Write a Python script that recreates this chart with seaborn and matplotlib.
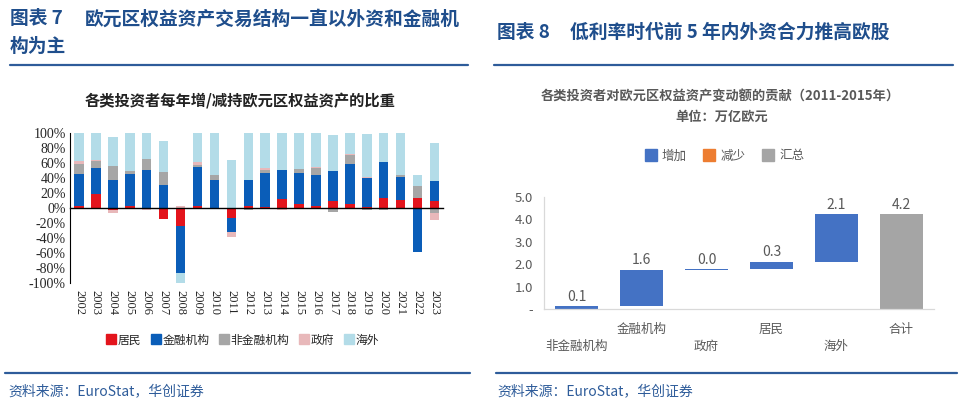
import numpy as np
import pandas as pd
import matplotlib
matplotlib.use("Agg")
import matplotlib.pyplot as plt
from matplotlib.lines import Line2D
import seaborn as sns

# ---------------- data ----------------
years = [str(y) for y in range(2002, 2024)]
series_names = ["居民", "金融机构", "非金融机构", "政府", "海外"]
household = [3, 19, -3, 3, 0, -14, -24, 3, -1, -13, 3, 2, 12, 6, 3, 9, 5, 1, 14, 11, 14, 9]
financial = [42, 35, 38, 43, 51, 31, -62, 52, 38, -19, 35, 45, 39, 41, 41, 41, 54, 39, 47, 30, -59, 27]
nonfinancial = [14, 9, 18, 4, 14, 17, 0, 3, 6, 0, -3, 4, 0, 5, 9, -5, 12, -3, -2, 3, 15, -6]
government = [4, 1, -4, 0, -3, 0, 3, 4, 0, -7, 0, 3, -3, 0, 2, 0, 1, 1, 1, 0, 1, -10]
foreign = [37, 36, 39, 50, 35, 41, -14, 38, 56, 64, 62, 46, 49, 48, 45, 48, 28, 58, 38, 56, 14, 51]
left_colors = ["#E3141C", "#0A5DB8", "#A6A6A6", "#E8B8BA", "#B3DCE8"]
y_ticks_left = [-100, -80, -60, -40, -20, 0, 20, 40, 60, 80, 100]

wf_categories = ["非金融机构", "金融机构", "政府", "居民", "海外", "合计"]
wf_changes = [0.12, 1.64, 0.02, 0.34, 2.12]
wf_total = 4.24
wf_legend = ["增加", "减少", "汇总"]
wf_colors = ["#4472C4", "#ED7D31", "#A5A5A5"]
wf_yticks = [0, 1, 2, 3, 4, 5]
wf_yticklabels = ["-", "1.0", "2.0", "3.0", "4.0", "5.0"]

# ---------------- style ----------------
sns.set_style("white")
plt.rcParams["font.family"] = ["Noto Sans CJK SC", "DejaVu Sans"]
plt.rcParams["axes.unicode_minus"] = False

W, H = 960, 409
fig = plt.figure(figsize=(W / 100, H / 100), dpi=100)
fig.patch.set_facecolor("white")

def fx(x):
    return x / W

def fy(y):
    return 1 - y / H

HEAD = "#1F4E8C"
LINE = "#2E5C9A"
GREY_T = "#595959"

# headers
fig.text(fx(10), fy(19), "图表 7", fontsize=13.5, fontweight="bold", color=HEAD, va="center")
fig.text(fx(85), fy(19), "欧元区权益资产交易结构一直以外资和金融机", fontsize=13.5,
         fontweight="bold", color=HEAD, va="center")
fig.text(fx(10), fy(46), "构为主", fontsize=13.5, fontweight="bold", color=HEAD, va="center")
fig.text(fx(497), fy(32), "图表 8", fontsize=13.5, fontweight="bold", color=HEAD, va="center")
fig.text(fx(570), fy(32), "低利率时代前 5 年内外资合力推高欧股", fontsize=13.5,
         fontweight="bold", color=HEAD, va="center")
for x0, x1, yy in [(10, 468, 65), (494, 953, 65), (5, 470, 373), (496, 957, 373)]:
    fig.add_artist(Line2D([fx(x0), fx(x1)], [fy(yy), fy(yy)], color=LINE, lw=1.6))
for x0 in [8, 497]:
    fig.text(fx(x0), fy(391), "资料来源：EuroStat，华创证券", fontsize=10, color=LINE,
             va="center", style="italic")

# ---------------- left chart ----------------
axL = fig.add_axes([fx(70), fy(283), 373 / W, 150 / H])
data_series = [household, financial, nonfinancial, government, foreign]
pos_base = np.zeros(len(years))
neg_base = np.zeros(len(years))
for name, vals, col in zip(series_names, data_series, left_colors):
    v = np.array(vals, dtype=float)
    bottoms = np.where(v >= 0, pos_base, neg_base)
    df = pd.DataFrame({"year": years, "value": v})
    sns.barplot(data=df, x="year", y="value", order=years, bottom=bottoms, color=col,
                saturation=1, width=0.56, errorbar=None, ax=axL, linewidth=0)
    pos_base = pos_base + np.where(v > 0, v, 0)
    neg_base = neg_base + np.where(v < 0, v, 0)

axL.set_xlim(-0.53, 21.47)
axL.set_ylim(-100, 100)
axL.set_yticks(y_ticks_left)
axL.set_yticklabels([f"{t}%" for t in y_ticks_left], family="Liberation Serif", fontsize=10)
axL.set_xlabel("")
axL.set_ylabel("")
axL.spines["top"].set_visible(False)
axL.spines["right"].set_visible(False)
axL.spines["left"].set_color("black")
axL.spines["left"].set_linewidth(0.8)
axL.spines["bottom"].set_position(("data", 0))
axL.spines["bottom"].set_color("black")
axL.spines["bottom"].set_linewidth(1.0)
axL.set_xticks([i + 0.5 for i in range(-1, len(years))])
axL.set_xticklabels([])
axL.tick_params(axis="x", direction="out", length=4, width=0.8, color="black")
axL.tick_params(axis="y", direction="out", length=2, width=0.6, color="black", pad=1)
for i, yr in enumerate(years):
    axL.text(i, -0.05, yr, transform=axL.get_xaxis_transform(), rotation=-90,
             ha="center", va="top", family="Liberation Serif", fontsize=9)

fig.text(fx(240), fy(101), "各类投资者每年增/减持欧元区权益资产的比重", fontsize=11,
         fontweight="bold", color="#222222", ha="center", va="center")
handlesL = [Line2D([0], [0], marker="s", linestyle="", markersize=7, markerfacecolor=c,
                   markeredgecolor=c) for c in left_colors]
fig.legend(handlesL, series_names, loc="center", bbox_to_anchor=(fx(243), fy(340)), ncol=5,
           frameon=False, fontsize=8.5, handlelength=0.7, handletextpad=0.2,
           columnspacing=0.9, borderaxespad=0)

# ---------------- right chart ----------------
axR = fig.add_axes([fx(544), fy(309), 390 / W, 112 / H])
steps = list(wf_changes) + [wf_total]
bottoms_r = list(np.concatenate([[0], np.cumsum(wf_changes)[:-1]])) + [0]
dfR = pd.DataFrame({"cat": wf_categories, "val": steps})
sns.barplot(data=dfR, x="cat", y="val", order=wf_categories, bottom=bottoms_r,
            color=wf_colors[0], saturation=1, width=0.65, errorbar=None, ax=axR, linewidth=0)
axR.patches[-1].set_facecolor(wf_colors[2])
axR.bar_label(axR.containers[0], labels=[f"{v:.1f}" for v in steps], padding=1.5,
              fontsize=10, color=GREY_T)
axR.set_xlim(-0.5, 5.5)
axR.set_ylim(0, 5)
axR.set_yticks(wf_yticks)
axR.set_yticklabels(wf_yticklabels, fontsize=9.5, color=GREY_T)
axR.tick_params(axis="y", length=0, pad=8)
axR.set_xticks([])
axR.set_xlabel("")
axR.set_ylabel("")
for s in ["top", "right"]:
    axR.spines[s].set_visible(False)
for s in ["left", "bottom"]:
    axR.spines[s].set_color("#D9D9D9")
    axR.spines[s].set_linewidth(0.9)
for i, c in enumerate(wf_categories):
    off = 0.28 if i % 2 == 0 else 0.125
    axR.text(i, -off, c, transform=axR.get_xaxis_transform(), ha="center", va="top",
             fontsize=9, color=GREY_T)

fig.text(fx(720), fy(96), "各类投资者对欧元区权益资产变动额的贡献（2011-2015年）", fontsize=9.5,
         fontweight="bold", color=GREY_T, ha="center", va="center")
fig.text(fx(722), fy(117), "单位：万亿欧元", fontsize=9.5, fontweight="bold", color=GREY_T,
         ha="center", va="center")
handlesR = [Line2D([0], [0], marker="s", linestyle="", markersize=8, markerfacecolor=c,
                   markeredgecolor=c) for c in wf_colors]
fig.legend(handlesR, wf_legend, loc="center", bbox_to_anchor=(fx(725), fy(156)), ncol=3,
           frameon=False, fontsize=9, handlelength=0.8, handletextpad=0.5,
           columnspacing=1.4, borderaxespad=0, labelcolor=GREY_T)

fig.savefig("out.png", dpi=100, facecolor="white")
